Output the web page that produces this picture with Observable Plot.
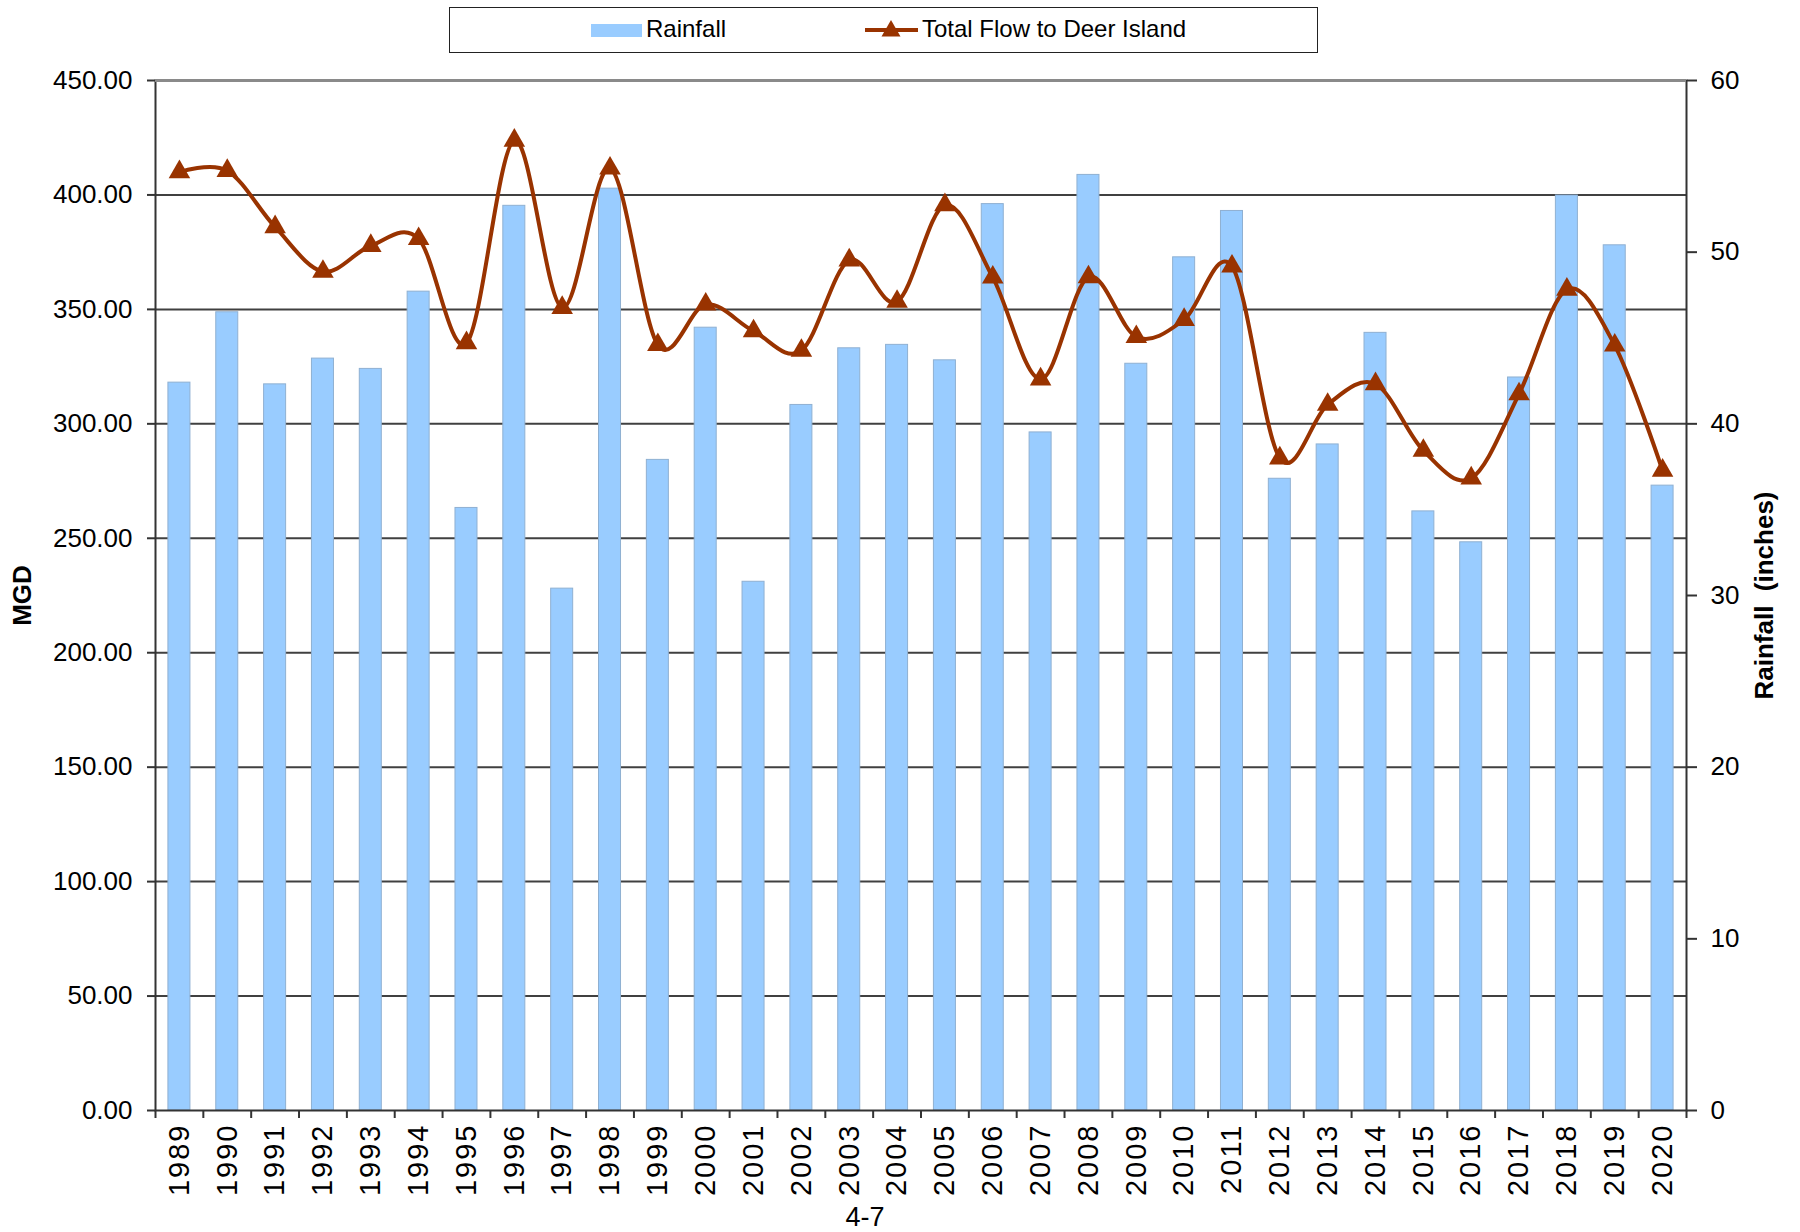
<!DOCTYPE html>
<html>
<head>
<meta charset="utf-8">
<script src="https://cdn.jsdelivr.net/npm/d3@7"></script>
<script src="https://cdn.jsdelivr.net/npm/@observablehq/plot@0.6"></script>
<style>
  html, body { margin: 0; padding: 0; background: #fff; }
  body { width: 1800px; font-family: "Liberation Sans", Arial, sans-serif; color: #000; }
  #legend { position: relative; width: 1800px; height: 62px; }
  #legend .box { position: absolute; left: 449px; top: 7px; width: 869px; height: 46px; box-sizing: border-box; border: 1.5px solid #222; }
  #legend .swatch { position: absolute; left: 591px; top: 24px; width: 51px; height: 13px; background: #99CCFF; }
  #legend .lbl { position: absolute; top: 17px; font-size: 24px; line-height: 24px; white-space: nowrap; }
  #legend svg { position: absolute; left: 862px; top: 18px; }
  #chart svg { display: block; }
  #chart g[aria-label="x-axis tick label"] text { letter-spacing: 2px; }
  #caption { width: 1730px; height: 40px; box-sizing: border-box; padding-top: 12px; text-align: center; font-size: 27px; line-height: 27px; }
</style>
</head>
<body>
<div id="legend">
  <div class="box"></div>
  <div class="swatch"></div>
  <span class="lbl" style="left:646px">Rainfall</span>
  <svg width="60" height="24" viewBox="0 0 60 24">
    <line x1="3" y1="12" x2="56" y2="12" stroke="#993300" stroke-width="4"></line>
    <path d="M29,2 L38.5,18.5 L19.5,18.5 Z" fill="#993300"></path>
  </svg>
  <span class="lbl" style="left:922px">Total Flow to Deer Island</span>
</div>
<div id="chart"></div>
<div id="caption">4-7</div>
<script>
// ---- data ----
const years = ["1989","1990","1991","1992","1993","1994","1995","1996","1997","1998","1999","2000","2001","2002","2003","2004","2005","2006","2007","2008","2009","2010","2011","2012","2013","2014","2015","2016","2017","2018","2019","2020"];
// Annual rainfall, inches (right axis)
const rainfall = [42.4,46.5,42.3,43.8,43.2,47.7,35.1,52.7,30.4,53.7,37.9,45.6,30.8,41.1,44.4,44.6,43.7,52.8,39.5,54.5,43.5,49.7,52.4,36.8,38.8,45.3,34.9,33.1,42.7,53.3,50.4,36.4];
// Total flow to Deer Island, MGD (left axis)
const flow = [410.0,410.6,386.0,366.5,377.8,380.8,335.3,423.8,350.7,411.6,334.5,352.2,340.5,332.0,371.5,353.4,395.6,364.0,319.5,364.1,338.0,345.5,368.8,285.0,308.4,317.4,288.3,276.2,313.0,358.7,334.3,279.6];
// Axis ticks
const mgdTicks = [0,50,100,150,200,250,300,350,400,450];
const rainTicks = [0,10,20,30,40,50,60];

const MGD_MAX = 450, RAIN_MAX = 60;
const ratio = MGD_MAX / RAIN_MAX; // MGD per inch, to share the y scale

const data = years.map((y, i) => ({year: y, rain: rainfall[i], flow: flow[i]}));

const W = 1800, H = 1130, mL = 155, mR = 114, mT = 18, mB = 82;
const step = (W - mL - mR) / years.length;
const font = '"Liberation Sans", Arial, sans-serif';

const chart = Plot.plot({
  width: W, height: H,
  marginTop: mT, marginRight: mR, marginBottom: mB, marginLeft: mL,
  style: {fontFamily: font, fontSize: "26px", color: "#000", background: "#fff", overflow: "visible"},
  x: {type: "band", domain: years, paddingInner: 0.54, paddingOuter: 0.27, round: false, label: null},
  y: {domain: [0, MGD_MAX], label: null},
  marks: [
    Plot.gridY({ticks: mgdTicks.filter(d => d > 0 && d < MGD_MAX), stroke: "#404040", strokeOpacity: 1, strokeWidth: 2}),
    Plot.barY(data, {x: "year", y: d => d.rain * ratio, fill: "#99CCFF", stroke: "#8FB0D2", strokeWidth: 1}),
    Plot.frame({stroke: "#333", strokeWidth: 2}),
    Plot.ruleY([MGD_MAX], {stroke: "#8a8a8a", strokeWidth: 3}),
    Plot.line(data, {x: "year", y: "flow", stroke: "#993300", strokeWidth: 4, curve: "cardinal"}),
    Plot.dot(data, {x: "year", y: "flow", symbol: "triangle", r: 8, fill: "#993300", stroke: "none"}),
    Plot.axisY({anchor: "left", ticks: mgdTicks, tickSize: 8, tickPadding: 15, tickFormat: d => d.toFixed(2), fontSize: 26, stroke: "#333", strokeWidth: 2, label: null}),
    Plot.axisY({anchor: "right", ticks: rainTicks.map(d => d * ratio), tickSize: 10, tickPadding: 14, tickFormat: d => String(Math.round(d / ratio)), fontSize: 26, stroke: "#333", strokeWidth: 2, label: null}),
    Plot.axisX({tickSize: 0, tickPadding: 13, tickRotate: -90, fontSize: 29, label: null}),
    // category boundary ticks below the x axis
    Plot.ruleX(years, {x: d => d, y1: 0, y2: -3.5, dx: -step / 2, stroke: "#333", strokeWidth: 2}),
    Plot.ruleX([years[years.length - 1]], {x: d => d, y1: 0, y2: -3.5, dx: step / 2, stroke: "#333", strokeWidth: 2}),
    // axis titles
    Plot.text(["MGD"], {frameAnchor: "left", text: d => d, rotate: -90, dx: -133, fontWeight: "bold", fontSize: 26, lineAnchor: "middle", textAnchor: "middle"}),
    Plot.text(["Rainfall  (inches)"], {frameAnchor: "right", text: d => d, rotate: -90, dx: 78, fontWeight: "bold", fontSize: 26, lineAnchor: "middle", textAnchor: "middle"})
  ]
});
document.getElementById("chart").appendChild(chart);
</script>
</body>
</html>
